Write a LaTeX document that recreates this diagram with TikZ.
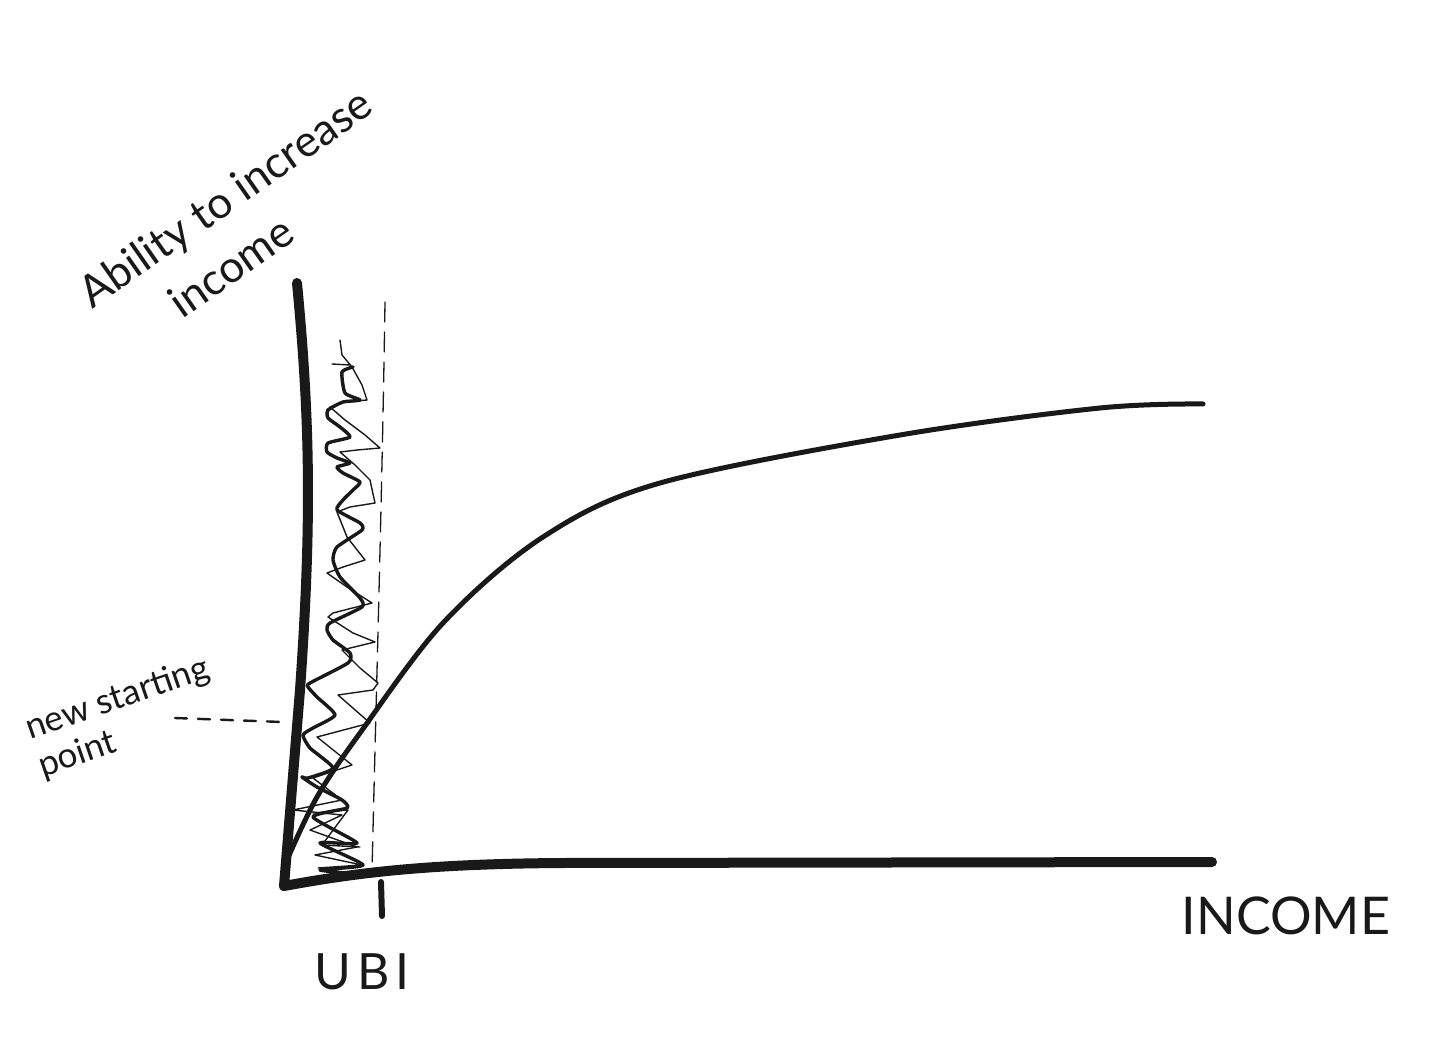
\documentclass[tikz,border=0pt]{standalone}
\usepackage{fontspec}
\setmainfont{Lato}
\begin{document}
\begin{tikzpicture}[x=1pt,y=-1pt,
  ink/.style={draw=black!90, line cap=round, line join=round},
  axisline/.style={ink, line width=10pt},
  curveline/.style={ink, line width=5pt},
  thickzig/.style={ink, line width=3.4pt},
  thinzig/.style={ink, line width=1.4pt},
  guide/.style={ink, line width=1.3pt, dash pattern=on 20pt off 10pt},
  leader/.style={ink, line width=2.4pt, dash pattern=on 12pt off 11pt},
  hand/.style={text=black!90, inner sep=0pt}]
\fill[white] (0,0) rectangle (1456,1043);
\useasboundingbox (0,0) rectangle (1456,1043);

% axes
\coordinate (ytop) at (297,283);
\coordinate (orig) at (284,886);
\coordinate (xend) at (1212,862);
\draw[axisline] (ytop) .. controls (310,420) and (312,520) .. (300,690) -- (orig)
  .. controls (360,872) and (430,864) .. (560,863) -- (xend);

% UBI tick
\coordinate (tk1) at (381,882);
\coordinate (tk2) at (382,916);
\draw[ink, line width=6pt] (tk1) -- (tk2);

% dashed guide
\coordinate (g1) at (385,302);
\coordinate (g2) at (372,872);
\draw[guide] (g1) .. controls (382,500) and (376,700) .. (g2);

% scribbles
\draw[thinzig] (340,340) -- (342,355) -- (352,367);
\draw[thinzig] (332,364) -- (350,365);
\draw[thickzig] plot[smooth, tension=0.35] coordinates {(353,367) (342,372) (345,393) (360,400) (343,402) (328,410) (328,418) (340,427) (350,437) (328,443) (327,452) (337,458) (350,463) (337,467) (343,473) (360,482) (353,490) (343,500) (337,510) (360,523) (362,530) (337,547) (333,560) (340,577) (360,598) (362,607) (330,623) (327,630) (333,640) (350,653) (348,663) (310,683) (308,687) (317,697) (335,715) (313,728) (303,735) (310,748) (333,768) (308,778) (302,777) (317,787) (342,800) (347,808) (313,817) (357,843) (320,843) (363,865) (320,870) (367,875)};
\draw[thinzig] (352,367) -- (362,385) -- (367,400) -- (345,402) -- (330,407) -- (345,420) -- (365,435) -- (380,448) -- (357,450) -- (340,452) -- (355,465) -- (370,480) -- (375,503) -- (350,507) -- (337,512) -- (347,537) -- (365,560) -- (343,567) -- (327,573) -- (347,587) -- (372,603) -- (333,613) -- (328,617) -- (353,633) -- (375,642) -- (342,650) -- (360,668) -- (378,683) -- (373,690) -- (338,695) -- (370,723) -- (317,737) -- (352,765) -- (313,778) -- (342,800) -- (293,810) -- (342,815) -- (310,830) -- (357,847) -- (315,855) -- (362,865) -- (318,868);
\draw[thinzig] (313,813) -- (348,810) -- (322,845) -- (360,847);

% main curve
\draw[curveline] plot[smooth, tension=0.55] coordinates {(287,860) (317,797) (360,733) (443,623) (543,537) (660,483) (900,435) (1100,408) (1203,404)};

% leader
\coordinate (ns) at (175,718);
\coordinate (ya) at (282,722);
\draw[leader] (ns) -- (ya);

% labels
\node[hand, rotate=35, align=center, font=\fontsize{44}{60}\selectfont] (ylab) at (242,222) {Ability to increase\\income\hspace*{70pt}};
\node[hand, rotate=19, align=left, font=\fontsize{35}{40}\selectfont] (nsp) at (124,718) {new starting\\point};
\node[hand, font=\fontsize{50}{52}\selectfont\addfontfeature{LetterSpace=12}] (ubi) at (362,972) {UBI};
\node[hand, font=\fontsize{52}{54}\selectfont] (inc) at (1286,916) {INCOME};
\end{tikzpicture}
\end{document}
